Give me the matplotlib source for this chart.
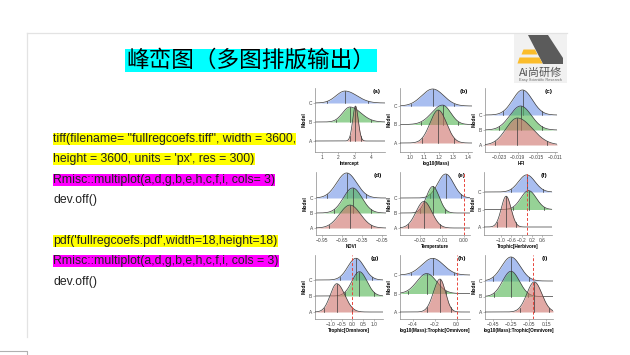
import numpy as np
import matplotlib.pyplot as plt
from matplotlib.patches import Rectangle, Polygon

plt.rcParams['font.family'] = ['Liberation Sans', 'DejaVu Sans']

# ---------------- 数据 ----------------
models = ['A', 'B', 'C']
panel_tags = ['(a)', '(b)', '(c)', '(d)', '(e)', '(f)', '(g)', '(h)', '(i)']
x_labels = ['Intercept', 'log10(Mass)', 'HFI',
            'NDVI', 'Temperature', 'Trophic[Herbivore]',
            'Trophic[Omnivore]', 'log10(Mass):Trophic[Omnivore]', 'log10(Mass):Trophic[Omnivore]']

# 每个面板 (A, B, C) 的峰位置 / 左右宽度 / 峰高
ridge_center = [[3.05, 2.71, 2.41],
                [1.195, 1.225, 1.157],
                [-0.0191, -0.0184, -0.0180],
                [-0.53, -0.49, -0.58],
                [-0.0184, -0.0143, -0.0083],
                [-0.80, 0.07, 0.0],
                [-0.72, 0.33, 0.17],
                [-0.152, -0.274, -0.219],
                [0.014, -0.25, -0.25]]
ridge_sd_left = [[0.17, 0.45, 0.55],
                 [0.057, 0.075, 0.076],
                 [0.0024, 0.0023, 0.0021],
                 [0.157, 0.14, 0.15],
                 [0.0037, 0.003, 0.0037],
                 [0.19, 0.30, 0.32],
                 [0.30, 0.35, 0.38],
                 [0.06, 0.09, 0.10],
                 [0.085, 0.096, 0.106]]
ridge_sd_right = [[0.17, 0.67, 0.73],
                  [0.057, 0.056, 0.076],
                  [0.0032, 0.0023, 0.0021],
                  [0.157, 0.14, 0.15],
                  [0.0037, 0.003, 0.0037],
                  [0.19, 0.30, 0.32],
                  [0.37, 0.35, 0.38],
                  [0.05, 0.09, 0.10],
                  [0.085, 0.096, 0.106]]
ridge_height = [[1.84, 0.79, 0.63],
                [1.78, 1.05, 0.92],
                [1.80, 1.60, 1.67],
                [1.53, 1.67, 1.67],
                [1.77, 1.77, 1.60],
                [1.76, 1.08, 0.98],
                [1.77, 1.52, 1.36],
                [1.78, 1.08, 0.90],
                [1.94, 1.63, 1.55]]

x_limits = [(0.57, 4.86), (0.931, 1.428), (-0.02598, -0.01066),
            (-1.04, 0.01), (-0.02953, 0.00302), (-1.66, 0.98),
            (-1.727, 1.421), (-0.5195, 0.124), (-0.5435, 0.2249)]
tick_values = [[1, 2, 3, 4], [1.0, 1.1, 1.2, 1.3, 1.4], [-0.023, -0.019, -0.015, -0.011],
               [-0.95, -0.65, -0.35, -0.05], [-0.02, -0.01, 0.0], [-1.0, -0.6, -0.2, 0.2, 0.6],
               [-1.0, -0.5, 0.0, 0.5, 1.0], [-0.4, -0.2, 0.0], [-0.45, -0.25, -0.05, 0.15]]
tick_labels = [['1', '2', '3', '4'], ['1.0', '1.1', '1.2', '1.3', '1.4'],
               ['−0.023', '−0.019', '−0.015', '−0.011'],
               ['−0.95', '−0.65', '−0.35', '−0.05'], ['−0.02', '−0.01', '0.00'],
               ['−1.0', '−0.6', '−0.2', '0.2', '0.6'],
               ['−1.0', '−0.5', '0.0', '0.5', '1.0'], ['−0.4', '−0.2', '0.0'],
               ['−0.45', '−0.25', '−0.05', '0.15']]
zero_line = [False, False, False, False, True, True, True, True, True]

code_lines = ['tiff(filename= "fullregcoefs.tiff", width = 3600,',
              "height = 3600, units = 'px', res = 300)",
              'Rmisc::multiplot(a,d,g,b,e,h,c,f,i, cols= 3)',
              'dev.off()',
              "pdf('fullregcoefs.pdf',width=18,height=18)",
              'Rmisc::multiplot(a,d,g,b,e,h,c,f,i, cols = 3)',
              'dev.off()']
code_marks = ['#ffff00', '#ffff00', '#ff00ff', None, '#ffff00', '#ff00ff', None]

# ---------------- 版面 (像素) ----------------
W, H = 630, 355
row_box = [(88, 152), (172, 235), (255, 319)]
col_box = [(315, 385), (400, 472), (485, 557),
           (316, 386), (400, 470), (484, 552),
           (315, 383), (400, 470), (485, 553)]
base_px = [(141, 103), (143, 106), (145, 115),
           (228, 198), (228, 198), (227, 192),
           (312, 280), (312, 275), (312, 281)]
fills = ['#cd7169', '#50b450', '#7193e6']
line_col = '#3a3a3a'


def draw_ridges(ax, k):
    xs = np.linspace(x_limits[k][0], x_limits[k][1], 500)
    for j in [2, 1, 0]:      # C 先画, A 在最上层
        mu = ridge_center[k][j]
        sl = ridge_sd_left[k][j]
        sr = ridge_sd_right[k][j]
        h = ridge_height[k][j]
        base = j + 1

        def dens(x):
            sd = np.where(x < mu, sl, sr)
            return h * np.exp(-0.5 * ((x - mu) / sd) ** 2)

        ys = base + dens(xs)
        z = 3 - j
        ax.fill_between(xs, base, ys, color=fills[j], alpha=0.6, lw=0, zorder=z)
        ax.plot(xs, ys, color=line_col, lw=0.5, zorder=z)
        for q in [mu - 1.96 * sl, mu, mu + 1.96 * sr]:
            ax.plot([q, q], [base, base + float(dens(np.array(q)))], color=line_col, lw=0.5, zorder=z)


fig = plt.figure(figsize=(W / 100, H / 100), dpi=100)
bg = fig.add_axes([0, 0, 1, 1])
bg.set_xlim(0, W)
bg.set_ylim(H, 0)
bg.axis('off')

# 页面边框
bg.plot([27, 567], [33, 33], color='#e3e3e3', lw=0.9)
bg.plot([27, 27], [33, 337], color='#e3e3e3', lw=0.9)
bg.plot([0, 27, 27], [351, 351, 355], color='#b0b0b0', lw=0.8)

# 标题
bg.add_patch(Rectangle((125, 49), 252, 23, facecolor='#00ffff', edgecolor='none'))
bg.text(251, 60.5, '峰峦图（多图排版输出）', fontsize=16.3, ha='center', va='center',
        family=['Noto Sans CJK SC', 'DejaVu Sans'])

# logo
bg.add_patch(Rectangle((514, 34), 53, 49, facecolor='#f1f1f1', edgecolor='none'))
bg.add_patch(Polygon([(528, 35), (548, 35), (563, 58), (563, 64), (543, 64)],
                     closed=True, facecolor='#5b5b5b', edgecolor='none'))
bg.add_patch(Polygon([(523.5, 49.5), (535, 49.5), (537.5, 54.5), (521.5, 54.5)],
                     closed=True, facecolor='#fbbd2c', edgecolor='none'))
bg.add_patch(Polygon([(519.5, 57.5), (539.5, 57.5), (542.5, 63.5), (517.5, 63.5)],
                     closed=True, facecolor='#fbbd2c', edgecolor='none'))
bg.text(540.5, 73, 'Ai尚研修', fontsize=8, color='#555555', ha='center', va='center',
        family=['Noto Sans CJK SC', 'DejaVu Sans'])
bg.text(540.5, 80.5, 'Easy Scientific Research', fontsize=2.8, color='#666666',
        ha='center', va='center')

# 代码文字
line_y = [139, 159, 180, 200, 241, 261, 282]
for s, c, y in zip(code_lines, code_marks, line_y):
    if c:
        bg.text(53, y, s, fontsize=8.8, ha='left', va='center', color='#222222',
                bbox=dict(facecolor=c, edgecolor='none', pad=0.3))
    else:
        bg.text(53, y, s, fontsize=8.8, ha='left', va='center', color='#222222')

# 九个峰峦图
for k in range(9):
    top, bottom = row_box[k // 3]
    left, right = col_box[k]
    a_px, c_px = base_px[k]
    s = (a_px - c_px) / 2.0
    ax = fig.add_axes([left / W, 1 - bottom / H, (right - left) / W, (bottom - top) / H])
    ax.set_facecolor('none')
    draw_ridges(ax, k)
    if zero_line[k]:
        ax.axvline(0, color='#e8453c', ls=(0, (3, 2)), lw=0.7, zorder=10)
    ax.set_xlim(x_limits[k])
    ax.set_ylim(1 - (bottom - a_px) / s, 3 + (c_px - top) / s)
    ax.set_xticks(tick_values[k])
    ax.set_xticklabels(tick_labels[k])
    ax.set_yticks([1, 2, 3])
    ax.set_yticklabels(models)
    for sp in ['top', 'right']:
        ax.spines[sp].set_visible(False)
    for sp in ['left', 'bottom']:
        ax.spines[sp].set_color('#8a8a8a')
        ax.spines[sp].set_linewidth(0.5)
    ax.tick_params(labelsize=3.5, length=1.5, width=0.4, pad=0.8, colors='#8a8a8a', labelcolor='#444444')
    ax.set_xlabel(x_labels[k], fontsize=3.3, fontweight='bold', labelpad=0.8)
    ax.set_ylabel('Model', fontsize=3.6, fontweight='bold', labelpad=1.2)
    ax.text(0.88, 0.99, panel_tags[k], transform=ax.transAxes, fontsize=4.6,
            fontweight='bold', ha='center', va='top')

plt.savefig('out.png', dpi=100)
